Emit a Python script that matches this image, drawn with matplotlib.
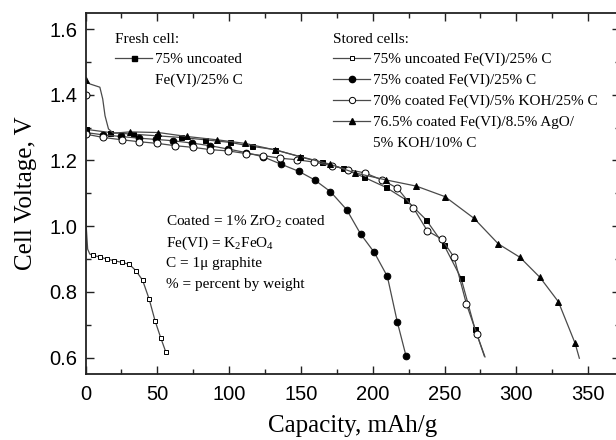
import matplotlib
matplotlib.use('Agg')
import matplotlib.pyplot as plt
from matplotlib.lines import Line2D
from matplotlib.ticker import MultipleLocator, FormatStrFormatter

# ---------------- data ----------------
fresh_x = [0, 0.5, 1.5, 3.0, 5.4, 10.1, 14.8, 19.8, 25.2, 30.5, 35.2, 39.8, 44.4, 48.5, 52.4, 56.0]
fresh_y = [1.29, 1.00, 0.93, 0.915, 0.911, 0.906, 0.900, 0.895, 0.890, 0.884, 0.864, 0.835, 0.777, 0.711, 0.660, 0.616]

uncoated_x = [0, 17.1, 33, 50, 66.5, 83.2, 100.6, 115.7, 132, 149.4, 164.5, 179.1, 193.9, 209.3, 223.2,
              237.1, 249.7, 261.5, 271.2, 278.2]
uncoated_y = [1.295, 1.285, 1.280, 1.275, 1.270, 1.263, 1.255, 1.243, 1.233, 1.211, 1.194, 1.176, 1.149, 1.118,
              1.080, 1.020, 0.942, 0.842, 0.687, 0.602]

coated_x = [0, 12.3, 24.6, 37, 49.3, 61.1, 74, 86.7, 99, 111.8, 123.8, 136, 148.5, 159.5, 170.6, 181.9,
            191.6, 201.1, 210.2, 217.1, 223.2]
coated_y = [1.285, 1.278, 1.273, 1.268, 1.264, 1.260, 1.253, 1.245, 1.235, 1.224, 1.211, 1.189, 1.167, 1.141,
            1.105, 1.050, 0.976, 0.920, 0.847, 0.709, 0.605]

koh_x = [0, 0.3, 12.4, 25.2, 37.5, 50, 62.3, 74.6, 87, 99.4, 111.8, 123.8, 135.4, 147.5, 159.3, 171.4, 183,
         194.6, 206.3, 217.1, 228.3, 238, 248, 256.7, 265.2, 272.4, 277.7]
koh_y = [1.40, 1.28, 1.270, 1.263, 1.257, 1.252, 1.245, 1.240, 1.233, 1.229, 1.221, 1.215, 1.207, 1.202, 1.195,
         1.184, 1.172, 1.162, 1.141, 1.116, 1.056, 0.986, 0.961, 0.905, 0.764, 0.673, 0.605]

ago_x = [0, 3, 10, 12, 13.6, 16, 19.4, 31, 50.7, 70.5, 91.4, 111, 132, 149.4, 170, 187.7, 209, 230.3, 250.3,
         270.5, 287.5, 302.6, 316.5, 329.3, 340.9, 343.9]
ago_y = [1.445, 1.433, 1.423, 1.387, 1.336, 1.296, 1.283, 1.287, 1.285, 1.273, 1.263, 1.252, 1.232, 1.212, 1.189,
         1.162, 1.141, 1.122, 1.090, 1.024, 0.946, 0.905, 0.844, 0.770, 0.644, 0.598]

fresh_title = 'Fresh cell:'
fresh_labels = ['75% uncoated', 'Fe(VI)/25% C']
stored_title = 'Stored cells:'
stored_labels = ['75% uncoated Fe(VI)/25% C', '75% coated Fe(VI)/25% C',
                 '70% coated Fe(VI)/5% KOH/25% C', '76.5% coated Fe(VI)/8.5% AgO/', '5% KOH/10% C']
notes = ['Coated = 1% ZrO$_2$ coated', 'Fe(VI) = K$_2$FeO$_4$', 'C = 1\u03bc graphite', '% = percent by weight']
xlabel = 'Capacity, mAh/g'
ylabel = 'Cell Voltage, V'

# marker positions along each curve
fresh_mk = list(range(4, len(fresh_x)))
uncoated_mk = list(range(0, len(uncoated_x) - 1))
coated_mk = list(range(0, len(coated_x)))
koh_mk = list(range(0, len(koh_x) - 1))
ago_mk = [0] + list(range(7, len(ago_x) - 1))

# ---------------- style ----------------
plt.rcParams['mathtext.fontset'] = 'custom'
plt.rcParams['mathtext.rm'] = 'Liberation Serif'
plt.rcParams['mathtext.it'] = 'Liberation Serif:italic'
plt.rcParams['mathtext.bf'] = 'Liberation Serif:bold'

LC = '#4a4a4a'
SERIF = 'Liberation Serif'
SANS = 'Liberation Sans'

fig = plt.figure(figsize=(6.16, 4.40), dpi=100)
ax = fig.add_axes([0.1388, 0.15, 0.8672, 0.8213])

common = dict(color=LC, lw=0.9, mec='black', mew=0.7)
ax.plot(fresh_x, fresh_y, marker='s', ms=3.3, mfc='white', markevery=fresh_mk, **common)
ax.plot(uncoated_x, uncoated_y, marker='s', ms=3.6, mfc='black', markevery=uncoated_mk, **common)
ax.plot(coated_x, coated_y, marker='o', ms=4.8, mfc='black', markevery=coated_mk, **common)
ax.plot(koh_x, koh_y, marker='o', ms=5.0, mfc='white', markevery=koh_mk, **common)
ax.plot(ago_x, ago_y, marker='^', ms=5.0, mfc='black', markevery=ago_mk, **common)

ax.set_xlim(0, 372)
ax.set_ylim(0.55, 1.65)
ax.xaxis.set_major_locator(MultipleLocator(50))
ax.xaxis.set_minor_locator(MultipleLocator(25))
ax.yaxis.set_major_locator(MultipleLocator(0.2))
ax.yaxis.set_minor_locator(MultipleLocator(0.1))
ax.yaxis.set_major_formatter(FormatStrFormatter('%.1f'))
ax.tick_params(which='both', direction='in', top=True, right=True, width=1.0, colors='#222222')
ax.tick_params(which='major', length=6, labelsize=14.5, pad=6)
ax.tick_params(which='minor', length=3.5)
ax.tick_params(axis='x', which='major', pad=8)
for lab in ax.get_xticklabels() + ax.get_yticklabels():
    lab.set_fontfamily(SANS)
    lab.set_color('black')
for sp in ax.spines.values():
    sp.set_linewidth(1.3)
    sp.set_color('#222222')

ax.set_xlabel(xlabel, fontsize=18, family=SERIF, labelpad=8)
ax.set_ylabel(ylabel, fontsize=18, family=SERIF, labelpad=9)

# ---------------- legends ----------------
blank = Line2D([], [], linestyle='none')
fresh_handles = [Line2D([], [], color=LC, lw=0.9, marker='s', ms=3.6, mfc='black', mec='black'), blank]
leg_kw = dict(loc='upper left', frameon=False, handlelength=2.45, handletextpad=0.2,
              labelspacing=0.46, borderpad=0, borderaxespad=0, alignment='left',
              prop={'family': SERIF, 'size': 11}, title_fontproperties={'family': SERIF, 'size': 11})
leg1 = ax.legend(fresh_handles, fresh_labels, title=fresh_title, bbox_to_anchor=(0.055, 0.945), **leg_kw)
ax.add_artist(leg1)

stored_handles = [
    Line2D([], [], color=LC, lw=0.9, marker='s', ms=3.3, mfc='white', mec='black', mew=0.7),
    Line2D([], [], color=LC, lw=0.9, marker='o', ms=4.5, mfc='black', mec='black'),
    Line2D([], [], color=LC, lw=0.9, marker='o', ms=4.5, mfc='white', mec='black', mew=0.7),
    Line2D([], [], color=LC, lw=0.9, marker='^', ms=4.8, mfc='black', mec='black'),
    blank,
]
ax.legend(stored_handles, stored_labels, title=stored_title, bbox_to_anchor=(0.463, 0.945), **leg_kw)

# ---------------- notes ----------------
note_y = [0.4206, 0.3625, 0.307, 0.249]
for t, yy in zip(notes, note_y):
    ax.text(0.1507, yy, t, transform=ax.transAxes, fontsize=11, family=SERIF, va='center', ha='left')

fig.savefig('out.png', dpi=100)
